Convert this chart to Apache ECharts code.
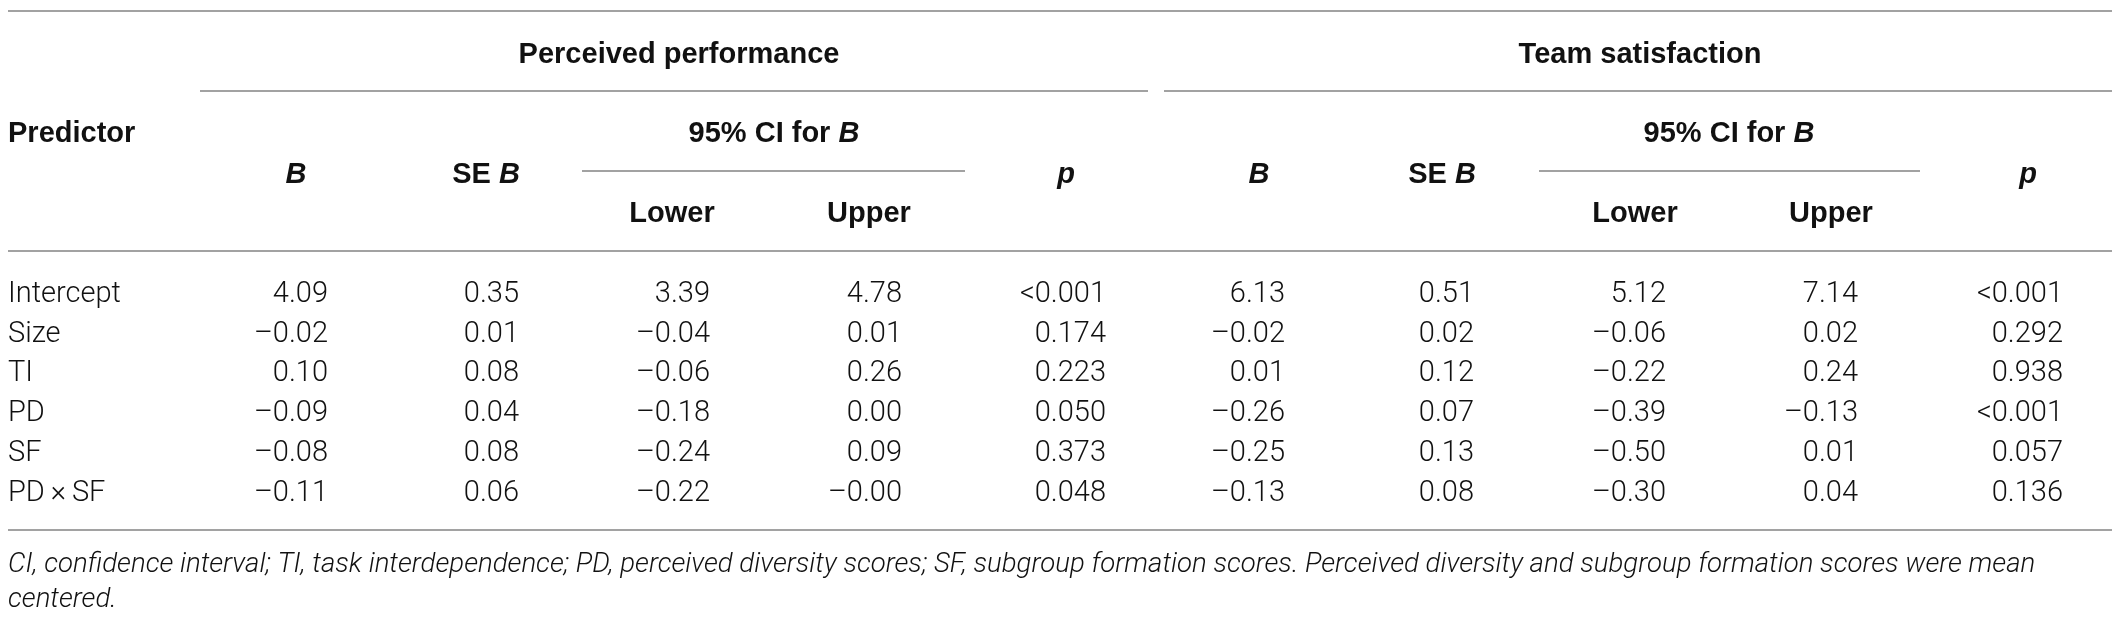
<!DOCTYPE html>
<html>
<head>
<meta charset="utf-8">
<title>Regression table</title>
<script src="https://cdn.jsdelivr.net/npm/echarts@6.0.0/dist/echarts.min.js"></script>
<style>
  html, body { margin: 0; padding: 0; background: #fff; }
  #main { width: 2128px; height: 624px; }
</style>
</head>
<body>
<div id="main"></div>
<script>
// table content
var groupTitles = ['Perceived performance', 'Team satisfaction'];
var subHeads = ['{bi|B}', '{b|SE }{bi|B}', '{b|Lower}', '{b|Upper}', '{bi|p}'];
var ciHead = '{b|95% CI for }{bi|B}';
var predictors = ['Intercept', 'Size', 'TI', 'PD', 'SF', 'PD\u2009\u00d7\u2009SF'];

var ppB     = ['4.09', '–0.02', '0.10', '–0.09', '–0.08', '–0.11'];
var ppSE    = ['0.35', '0.01', '0.08', '0.04', '0.08', '0.06'];
var ppLower = ['3.39', '–0.04', '–0.06', '–0.18', '–0.24', '–0.22'];
var ppUpper = ['4.78', '0.01', '0.26', '0.00', '0.09', '–0.00'];
var ppP     = ['<0.001', '0.174', '0.223', '0.050', '0.373', '0.048'];

var tsB     = ['6.13', '–0.02', '0.01', '–0.26', '–0.25', '–0.13'];
var tsSE    = ['0.51', '0.02', '0.12', '0.07', '0.13', '0.08'];
var tsLower = ['5.12', '–0.06', '–0.22', '–0.39', '–0.50', '–0.30'];
var tsUpper = ['7.14', '0.02', '0.24', '–0.13', '0.01', '0.04'];
var tsP     = ['<0.001', '0.292', '0.938', '<0.001', '0.057', '0.136'];

var footnote = [
  'CI, confidence interval; TI, task interdependence; PD, perceived diversity scores; SF, subgroup formation scores. Perceived diversity and subgroup formation scores were mean',
  'centered.'
];

// layout (pixel units of the hidden value axes)
var leftX = 8, rightX = 2112;
var groupCenter = [679, 1640];
var headCenter = [[296, 486, 672, 869, 1066], [1259, 1442, 1635, 1831, 2028]];
var ciCenter = [774, 1729];
var colRight = [328, 519, 710, 902, 1106, 1285, 1474, 1666, 1858, 2063];
var rowTop = 294.5, rowStep = 39.8;

var columns = [ppB, ppSE, ppLower, ppUpper, ppP, tsB, tsSE, tsLower, tsUpper, tsP];

var bold = { fontFamily: 'Liberation Sans', fontWeight: 'bold', fontSize: 29, fill: '#111' };
var rich = {
  b: bold,
  bi: { fontFamily: 'Liberation Sans', fontWeight: 'bold', fontStyle: 'italic', fontSize: 29, fill: '#111' }
};
var bodyFont = { fontFamily: 'Roboto', fontWeight: 300, fontSize: 29, fill: '#111' };
var noteFont = { fontFamily: 'Roboto', fontWeight: 300, fontStyle: 'italic', fontSize: 27.6, fill: '#111' };

var cells = [];
groupTitles.forEach(function (t, g) {
  cells.push({ x: groupCenter[g], y: 54.5, text: '{b|' + t + '}', align: 'center' });
  cells.push({ x: ciCenter[g], y: 134, text: ciHead, align: 'center' });
  subHeads.forEach(function (h, k) {
    var y = (k === 2 || k === 3) ? 214 : 175;
    cells.push({ x: headCenter[g][k], y: y, text: h, align: 'center' });
  });
});
cells.push({ x: leftX, y: 134, text: '{b|Predictor}', align: 'left' });

predictors.forEach(function (name, r) {
  var y = rowTop + r * rowStep;
  cells.push({ x: leftX, y: y, text: name, align: 'left', font: bodyFont });
  columns.forEach(function (col, c) {
    cells.push({ x: colRight[c], y: y, text: col[r], align: 'right', font: bodyFont });
  });
});
footnote.forEach(function (line, i) {
  cells.push({ x: leftX, y: 565.5 + i * 35, text: line, align: 'left', font: noteFont });
});

// rules: [x1, x2, y]
var rules = [
  [leftX, rightX, 11],
  [200, 1148, 91], [1164, rightX, 91],
  [582, 965, 171], [1539, 1920, 171],
  [leftX, rightX, 251],
  [leftX, rightX, 530]
];

var chart = echarts.init(document.getElementById('main'));
chart.setOption({
  backgroundColor: '#fff',
  animation: false,
  grid: { left: 0, right: 0, top: 0, bottom: 0 },
  xAxis: { type: 'value', min: 0, max: 2128, show: false },
  yAxis: { type: 'value', min: 0, max: 624, inverse: true, show: false },
  series: [
    {
      type: 'custom',
      silent: true,
      data: rules,
      renderItem: function (params, api) {
        var a = api.coord([api.value(0), api.value(2)]);
        var b = api.coord([api.value(1), api.value(2)]);
        return {
          type: 'line',
          shape: { x1: a[0], y1: a[1], x2: b[0], y2: b[1] },
          style: { stroke: '#a2a2a2', lineWidth: 2 }
        };
      }
    },
    {
      type: 'custom',
      silent: true,
      data: cells.map(function (c) { return [c.x, c.y]; }),
      renderItem: function (params, api) {
        var c = cells[params.dataIndex];
        var p = api.coord([api.value(0), api.value(1)]);
        var style = { text: c.text, align: c.align, verticalAlign: 'middle' };
        if (c.font) {
          Object.assign(style, c.font);
        } else {
          Object.assign(style, bold);
          style.rich = rich;
        }
        return { type: 'text', x: p[0], y: p[1], style: style };
      }
    }
  ]
});
</script>
</body>
</html>
